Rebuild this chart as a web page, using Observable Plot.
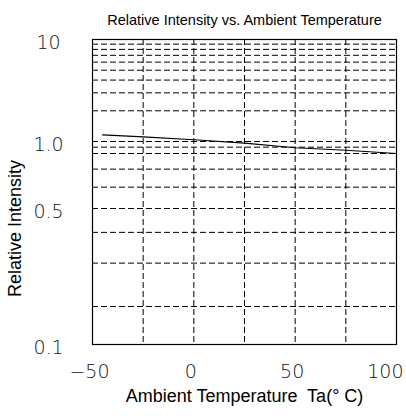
<!DOCTYPE html>
<html>
<head>
<meta charset="utf-8">
<script src="https://cdn.jsdelivr.net/npm/d3@7"></script>
<script src="https://cdn.jsdelivr.net/npm/@observablehq/plot@0.6"></script>
<style>
  html, body { margin: 0; padding: 0; background: #fff; }
  #chart svg { display: block; overflow: visible; }
</style>
</head>
<body>
<div id="chart"></div>
<script>
// ---- data ----
const temps = [-45, -25, 0, 25, 50, 75, 100];           // Ta (°C)
const intensity = [1.16, 1.11, 1.04, 0.97, 0.89, 0.85, 0.80]; // relative intensity

const xTicks = [-50, 0, 50];
const xTickLabels = ["\u221250", "0", "50"];
const xLastTick = [100];
const xLastTickLabel = ["100"];
const xGrid = [-25, 0, 25, 50, 75];

const yTicks = [10, 1, 0.5, 0.1];
const yTickLabels = ["10", "1.0", "0.5", "0.1"];
const yGrid = [0.2, 0.3, 0.4, 0.5, 0.6, 0.7, 0.8, 0.9, 1, 2, 3, 4, 5, 6, 7, 8, 9];

const titleText = "Relative Intensity vs. Ambient Temperature";
const xTitle = "Ambient Temperature  Ta(\u00b0 C)";
const yTitle = "Relative Intensity";

const points = temps.map((t, i) => ({t, v: intensity[i]}));

const tickFont = "'DejaVu Sans ExtraLight', 'DejaVu Sans', sans-serif";
const labelFont = "'Liberation Sans', Arial, sans-serif";
const dash = "6,3";
const tickStyle = {fontFamily: tickFont, fontWeight: 200, fontSize: 19, fill: "#111"};

const chart = Plot.plot({
  width: 406,
  height: 419,
  marginTop: 39,
  marginBottom: 75,
  marginLeft: 92,
  marginRight: 10,
  x: {domain: [-50, 100], axis: null},
  // the reference's logarithmic axis has unequal decade heights
  y: {type: "log", domain: [0.1, 0.2, 0.5, 0.8, 1, 10], range: [344, 306, 208, 153, 141, 39], axis: null},
  marks: [
    Plot.ruleX(xGrid, {stroke: "#000", strokeWidth: 1, strokeDasharray: dash}),
    Plot.ruleY(yGrid, {stroke: "#000", strokeWidth: 1, strokeDasharray: dash}),
    Plot.frame({stroke: "#000", strokeWidth: 1.2}),
    Plot.line(points, {x: "t", y: "v", stroke: "#000", strokeWidth: 1.2}),
    Plot.text(xTicks, {x: d => d, text: (d, i) => xTickLabels[i], frameAnchor: "bottom", dy: 33, dx: -3, ...tickStyle}),
    Plot.text(xLastTick, {x: d => d, text: (d, i) => xLastTickLabel[i], frameAnchor: "bottom", dy: 33, dx: 7,
      textAnchor: "end", ...tickStyle}),
    Plot.text(yTicks, {y: d => d, text: (d, i) => yTickLabels[i], frameAnchor: "left", dx: -44, dy: 3,
      textAnchor: "middle", ...tickStyle}),
    Plot.text([titleText], {text: d => d, frameAnchor: "top", dy: -25,
      fontFamily: "'Liberation Sans Narrow', 'Liberation Sans', Arial, sans-serif", fontSize: 14.5, fill: "#000"}),
    Plot.text([xTitle], {text: d => d, frameAnchor: "bottom", dy: 57,
      fontFamily: labelFont, fontSize: 18, fill: "#000"}),
    Plot.text([yTitle], {text: d => d, frameAnchor: "left", dx: -77, dy: 36.5, rotate: -90, textAnchor: "middle",
      fontFamily: labelFont, fontSize: 18, fill: "#000"})
  ]
});
document.getElementById("chart").appendChild(chart);
</script>
</body>
</html>
